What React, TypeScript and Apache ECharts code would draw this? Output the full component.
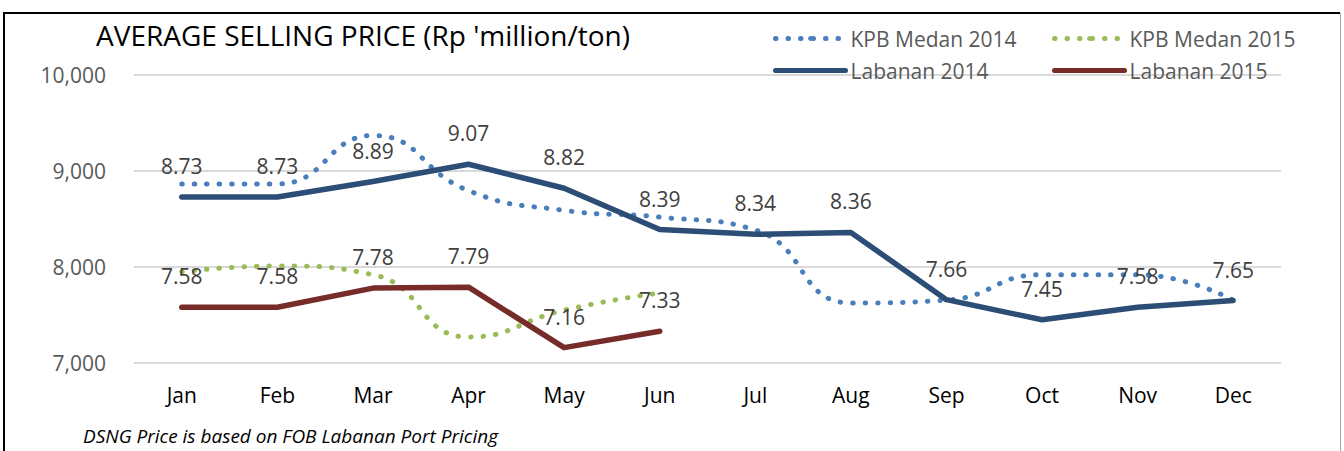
import React, { useEffect, useRef } from "react";
import * as echarts from "echarts";

const months = ["Jan", "Feb", "Mar", "Apr", "May", "Jun", "Jul", "Aug", "Sep", "Oct", "Nov", "Dec"];
const kpbMedan2014 = [8865, 8865, 9370, 8795, 8590, 8520, 8385, 7625, 7655, 7920, 7920, 7655];
const kpbMedan2015 = [7950, 8010, 7920, 7270, 7550, 7730];
const labanan2014 = [8730, 8730, 8890, 9070, 8820, 8390, 8340, 8360, 7660, 7450, 7580, 7650];
const labanan2015 = [7580, 7580, 7780, 7790, 7160, 7330];

const FONT = "'Open Sans', 'Noto Sans', sans-serif";

export default function App() {
  const ref = useRef<HTMLDivElement>(null);
  useEffect(() => {
    document.body.style.margin = "0";
    const chart = echarts.init(ref.current!, undefined, { renderer: "svg" });
    const dataLabel = {
      show: true,
      position: "top",
      distance: 20,
      fontSize: 21,
      color: "#404040",
      fontFamily: FONT,
      formatter: (p: any) => (p.value / 1000).toFixed(2),
    };
    const legendBase = {
      orient: "vertical",
      top: 28,
      padding: 0,
      itemWidth: 70,
      itemHeight: 6,
      itemGap: 11,
      lineStyle: { width: 5 },
      textStyle: { fontSize: 21, color: "#595959", fontFamily: FONT },
    };
    chart.setOption({
      animation: false,
      backgroundColor: "#ffffff",
      textStyle: { fontFamily: FONT },
      title: {
        text: "AVERAGE SELLING PRICE (Rp 'million/ton)",
        left: 96,
        top: 21,
        padding: 0,
        textStyle: { fontSize: 28, fontWeight: "normal", color: "#000000", fontFamily: FONT },
      },
      legend: [
        { ...legendBase, data: ["KPB Medan 2014", "Labanan 2014"], left: 773 },
        { ...legendBase, data: ["KPB Medan 2015", "Labanan 2015"], left: 1052 },
      ],
      grid: { left: 134, right: 63, top: 75, bottom: 88, containLabel: false },
      xAxis: {
        type: "category",
        data: months,
        boundaryGap: true,
        axisLine: { show: false },
        axisTick: { show: false },
        axisLabel: { fontSize: 21, color: "#000000", margin: 21, fontFamily: FONT },
      },
      yAxis: {
        type: "value",
        min: 7000,
        max: 10000,
        interval: 1000,
        axisLine: { show: false },
        axisTick: { show: false },
        axisLabel: { fontSize: 21, color: "#595959", margin: 28, fontFamily: FONT },
        splitLine: { lineStyle: { color: "#D9D9D9", width: 2 } },
      },
      series: [
        {
          name: "KPB Medan 2014",
          type: "line",
          data: kpbMedan2014,
          smooth: true,
          symbol: "none",
          color: "#4A7EBB",
          lineStyle: { color: "#4A7EBB", width: 5, type: [0.5, 12], cap: "round" },
          z: 2,
        },
        {
          name: "KPB Medan 2015",
          type: "line",
          data: kpbMedan2015,
          smooth: true,
          symbol: "none",
          color: "#9BBB59",
          lineStyle: { color: "#9BBB59", width: 5, type: [0.5, 12], cap: "round" },
          z: 2,
        },
        {
          name: "Labanan 2014",
          type: "line",
          data: labanan2014,
          symbol: "circle",
          symbolSize: 1,
          color: "#2C4D75",
          itemStyle: { color: "rgba(0,0,0,0)" },
          lineStyle: { color: "#2C4D75", width: 5.5, cap: "round", join: "round" },
          label: dataLabel,
          z: 3,
        },
        {
          name: "Labanan 2015",
          type: "line",
          data: labanan2015,
          symbol: "circle",
          symbolSize: 1,
          color: "#772C2A",
          itemStyle: { color: "rgba(0,0,0,0)" },
          lineStyle: { color: "#772C2A", width: 5.5, cap: "round", join: "round" },
          label: dataLabel,
          z: 3,
        },
      ],
      graphic: [
        {
          type: "line",
          shape: { x1: 3, y1: 13, x2: 1340, y2: 13 },
          style: { stroke: "#000000", lineWidth: 2 },
        },
        {
          type: "line",
          shape: { x1: 4, y1: 12, x2: 4, y2: 451 },
          style: { stroke: "#000000", lineWidth: 2 },
        },
        {
          type: "line",
          shape: { x1: 1340.5, y1: 13, x2: 1340.5, y2: 451 },
          style: { stroke: "#A6A6A6", lineWidth: 1 },
        },
        {
          type: "text",
          left: 83,
          top: 426,
          style: {
            text: "DSNG Price is based on FOB Labanan Port Pricing",
            fontSize: 19,
            fontStyle: "italic",
            fill: "#000000",
            fontFamily: FONT,
          },
        },
      ],
    });
    return () => chart.dispose();
  }, []);
  return <div ref={ref} style={{ width: 1344, height: 451 }} />;
}
